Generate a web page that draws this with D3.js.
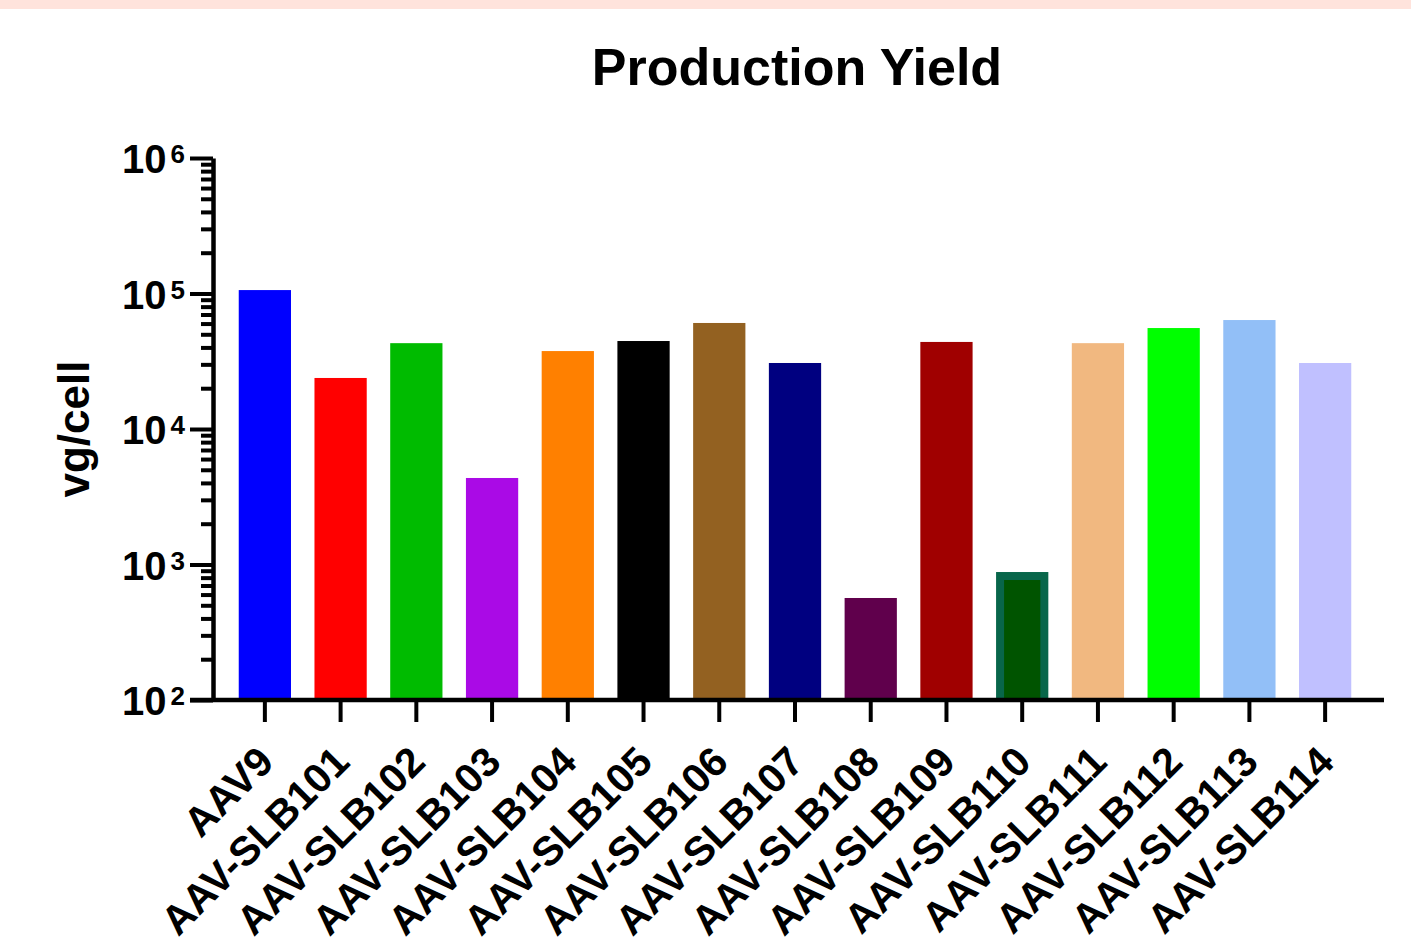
<!DOCTYPE html>
<html>
<head>
<meta charset="utf-8">
<script src="https://cdn.jsdelivr.net/npm/d3@7"></script>
<style>
  body { margin: 0; background: #fff; }
  text { font-family: "Liberation Sans", Arial, sans-serif; font-weight: bold; fill: #000; }
</style>
</head>
<body>
<div id="chart"></div>
<script>
// Production yield per capsid variant (vg/cell, log scale)
var categories = ["AAV9", "AAV-SLB101", "AAV-SLB102", "AAV-SLB103", "AAV-SLB104",
    "AAV-SLB105", "AAV-SLB106", "AAV-SLB107", "AAV-SLB108", "AAV-SLB109",
    "AAV-SLB110", "AAV-SLB111", "AAV-SLB112", "AAV-SLB113", "AAV-SLB114"];
var yields = [106000, 23800, 43000, 4350, 37600, 44600, 60600, 30700, 566, 43900,
    880, 43000, 55600, 63700, 30700];
var barColors = ["#0000ff", "#ff0000", "#00bb00", "#aa0ae6", "#ff8000", "#000000",
    "#936121", "#000080", "#60004c", "#a00000", "#08664a", "#f1b880", "#00ff00",
    "#92bff7", "#c0c0ff"];
var yTickExps = [2, 3, 4, 5, 6];

var W = 1411, H = 937;

var svg = d3.select("#chart")
    .append("svg")
    .attr("width", W)
    .attr("height", H);

// pink strip across the top
svg.append("rect")
    .attr("x", 0).attr("y", 0)
    .attr("width", W).attr("height", 9)
    .attr("fill", "#ffe3dc");

var x = d3.scaleBand()
    .domain(categories)
    .range([227, 1363])
    .paddingInner(0.31)
    .paddingOuter(0.155);

var y = d3.scaleLog()
    .domain([1e2, 1e6])
    .range([700, 158]);

// bars
svg.selectAll("rect.bar")
    .data(categories)
    .join("rect")
    .attr("class", "bar")
    .attr("x", d => x(d))
    .attr("width", x.bandwidth())
    .attr("y", (d, i) => y(yields[i]))
    .attr("height", (d, i) => y(1e2) - y(yields[i]))
    .attr("fill", (d, i) => barColors[i]);

// SLB110: darker fill inside its lighter border
var b110 = "AAV-SLB110", i110 = categories.indexOf(b110);
svg.append("rect")
    .attr("x", x(b110) + 8)
    .attr("width", x.bandwidth() - 16)
    .attr("y", y(yields[i110]) + 8)
    .attr("height", y(1e2) - y(yields[i110]) - 8)
    .attr("fill", "#005400");

// y axis: minor ticks
var minorVals = [];
yTickExps.slice(0, -1).forEach(e => {
    for (var k = 2; k <= 9; k++) minorVals.push(k * Math.pow(10, e));
});
var yMinor = svg.append("g")
    .attr("transform", "translate(213,0)")
    .call(d3.axisLeft(y).tickValues(minorVals).tickSize(12).tickFormat(""));
yMinor.select(".domain").remove();
yMinor.selectAll("line").attr("stroke", "#000").attr("stroke-width", 4);

// y axis: major ticks + domain
var yAxis = svg.append("g")
    .attr("transform", "translate(213,0)")
    .call(d3.axisLeft(y).tickValues(yTickExps.map(e => Math.pow(10, e))).tickSize(23).tickSizeOuter(0).tickFormat(""));
yAxis.select(".domain").attr("stroke", "#000").attr("stroke-width", 4.5);
yAxis.selectAll("line").attr("stroke", "#000").attr("stroke-width", 4);

var yLab = svg.selectAll("text.ylab")
    .data(yTickExps)
    .join("text")
    .attr("class", "ylab")
    .attr("x", 185)
    .attr("y", d => y(Math.pow(10, d)) + 15)
    .attr("text-anchor", "end")
    .style("font-size", "40px");
yLab.append("tspan").text("10");
yLab.append("tspan")
    .attr("dx", 4)
    .attr("dy", -10)
    .style("font-size", "26px")
    .text(d => d);

// x axis
var xAxis = svg.append("g")
    .attr("transform", "translate(0,700)")
    .call(d3.axisBottom(x).tickSize(22).tickSizeOuter(0).tickFormat(""));
xAxis.select(".domain").remove();
xAxis.selectAll("line").attr("stroke", "#000").attr("stroke-width", 4);
svg.append("line")
    .attr("x1", 190).attr("x2", 1384)
    .attr("y1", 700).attr("y2", 700)
    .attr("stroke", "#000")
    .attr("stroke-width", 4.5);

svg.selectAll("text.xlab")
    .data(categories)
    .join("text")
    .attr("class", "xlab")
    .attr("text-anchor", "end")
    .attr("transform", d => "translate(" + (x(d) + x.bandwidth() / 2 + 11) + ",764) rotate(-45)")
    .style("font-size", "41px")
    .text(d => d);

// titles
svg.append("text")
    .attr("x", 797)
    .attr("y", 85)
    .attr("text-anchor", "middle")
    .style("font-size", "52px")
    .text("Production Yield");

svg.append("text")
    .attr("transform", "translate(89,429) rotate(-90)")
    .attr("text-anchor", "middle")
    .style("font-size", "44px")
    .text("vg/cell");
</script>
</body>
</html>
